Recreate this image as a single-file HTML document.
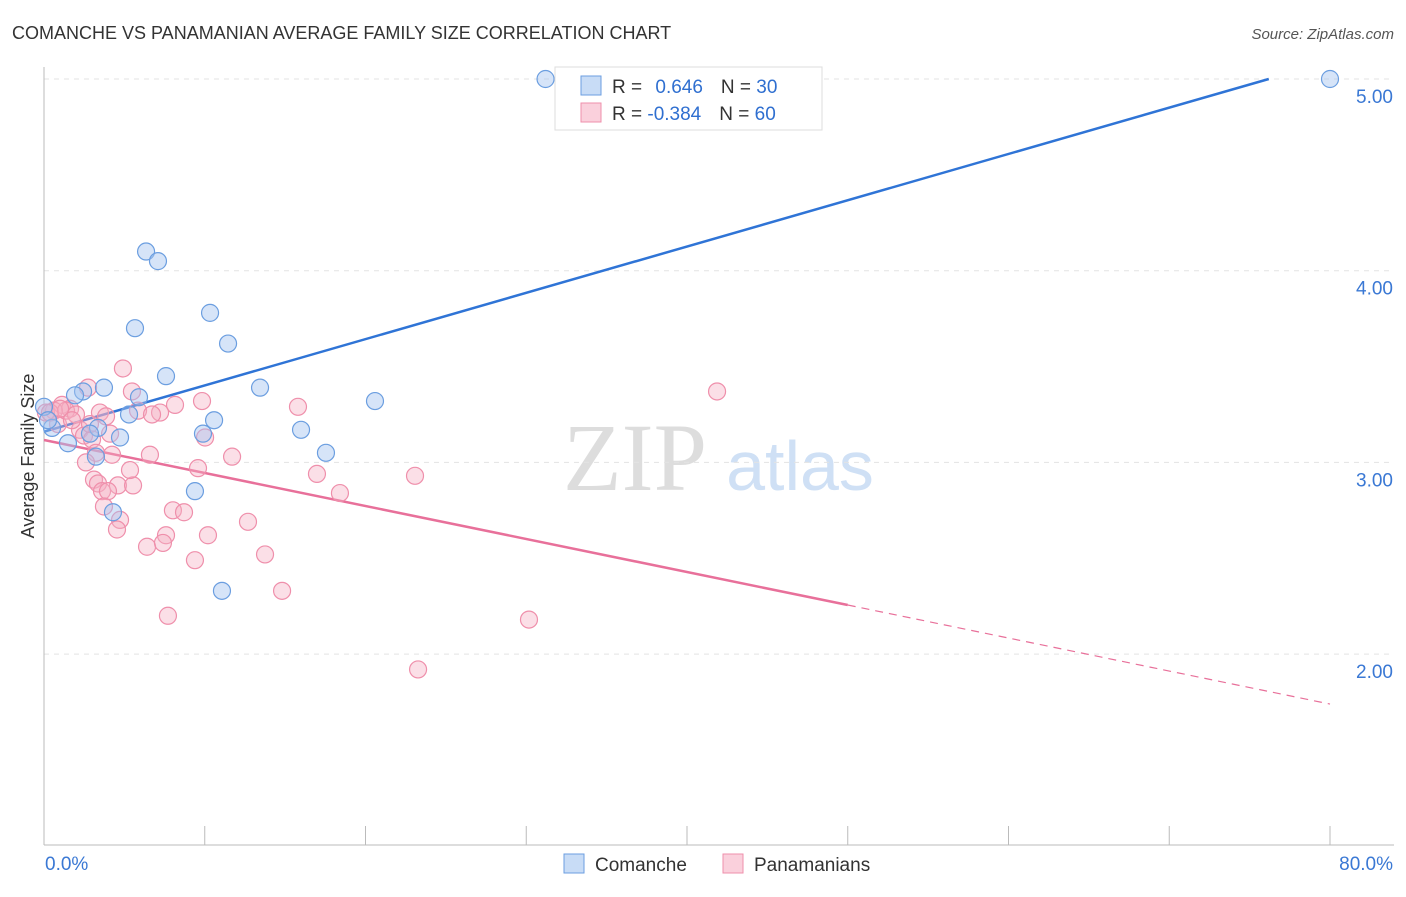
<!DOCTYPE html>
<html><head><meta charset="utf-8"><style>
body{margin:0;background:#fff;font-family:"Liberation Sans",sans-serif}
</style></head><body>
<svg width="1406" height="892" xmlns="http://www.w3.org/2000/svg" font-family="Liberation Sans, sans-serif">
<text x="12" y="39" font-size="18" fill="#333">COMANCHE VS PANAMANIAN AVERAGE FAMILY SIZE CORRELATION CHART</text>
<text x="1394" y="39" font-size="15" fill="#555" font-style="italic" text-anchor="end">Source: ZipAtlas.com</text>
<text x="635" y="490" font-size="96" fill="#ddd" font-family="Liberation Serif, serif" text-anchor="middle">ZIP</text>
<text x="800" y="490" font-size="70" fill="#cfe0f5" text-anchor="middle">atlas</text>
<g id="grid"></g><g id="axes"></g><g id="trends"></g><g id="points"></g>
<text x="34" y="456" font-size="18" fill="#333" text-anchor="middle" transform="rotate(-90 34 456)">Average Family Size</text>
<g>
<rect x="555" y="67" width="267" height="63" fill="#fff" stroke="#ddd"/>
<rect x="581" y="76" width="20" height="19" fill="rgba(164,196,240,0.6)" stroke="#6b9ee0"/>
<rect x="581" y="103" width="20" height="19" fill="rgba(246,176,196,0.6)" stroke="#ef8fab"/>
<text x="612" y="93" font-size="19" fill="#333">R = <tspan fill="#2f6fd0" dx="8">0.646</tspan><tspan fill="#333" dx="18">N = </tspan><tspan fill="#2f6fd0">30</tspan></text>
<text x="612" y="120" font-size="19" fill="#333">R = <tspan fill="#2f6fd0">-0.384</tspan><tspan fill="#333" dx="18">N = </tspan><tspan fill="#2f6fd0">60</tspan></text>
</g>
<g>
<rect x="564" y="854" width="20" height="19" fill="rgba(164,196,240,0.6)" stroke="#6b9ee0"/>
<text x="595" y="871" font-size="19" fill="#333">Comanche</text>
<rect x="723" y="854" width="20" height="19" fill="rgba(246,176,196,0.6)" stroke="#ef8fab"/>
<text x="754" y="871" font-size="19" fill="#333">Panamanians</text>
</g>
</svg>
<script>
const blueX=[31.2,80.0,6.35,7.09,5.66,10.33,11.45,7.59,13.44,20.59,3.73,2.43,1.93,5.91,5.29,10.58,3.36,2.86,4.73,0.50,1.49,9.89,15.99,17.54,3.23,9.39,4.29,11.07,0.0,0.25];
const blueY=[5.00,5.00,4.10,4.05,3.70,3.78,3.62,3.45,3.39,3.32,3.39,3.37,3.35,3.34,3.25,3.22,3.18,3.15,3.13,3.18,3.10,3.15,3.17,3.05,3.03,2.85,2.74,2.33,3.29,3.22];
const pinkX=[4.91,2.74,5.47,9.83,8.15,15.80,41.87,7.22,5.85,6.72,3.48,3.86,1.12,1.62,0.62,0.12,0.87,2.24,2.49,4.11,2.99,10.02,11.70,4.23,3.23,2.61,9.58,16.98,23.08,3.11,3.36,4.60,5.54,3.61,3.98,18.41,3.73,8.02,8.71,4.73,4.54,12.69,10.20,7.59,6.41,7.40,13.75,9.39,14.81,7.71,30.17,23.27,0.37,1.37,1.99,1.00,1.74,5.35,6.59,2.86];
const pinkY=[3.49,3.39,3.37,3.32,3.30,3.29,3.37,3.26,3.27,3.25,3.26,3.24,3.30,3.28,3.27,3.26,3.20,3.17,3.14,3.15,3.12,3.13,3.03,3.04,3.05,3.00,2.97,2.94,2.93,2.91,2.89,2.88,2.88,2.85,2.85,2.84,2.77,2.75,2.74,2.70,2.65,2.69,2.62,2.62,2.56,2.58,2.52,2.49,2.33,2.20,2.18,1.92,3.26,3.27,3.25,3.28,3.22,2.96,3.04,3.20];
const blueTrend=[3.16,0.02415]; // intercept, slope
const pinkTrend=[3.117,-0.01722];
const yTicks=[2,3,4,5];
const yTickLabels=["2.00","3.00","4.00","5.00"];
const xTickVals=[0,10,20,30,40,50,60,70,80];
const NS="http://www.w3.org/2000/svg";
const X0=44,X1=1330,Y5=79,PPU=191.7;
const sx=v=>X0+(v/80)*(X1-X0);
const sy=v=>Y5+(5-v)*PPU;
function mk(tag,attrs,parent){const e=document.createElementNS(NS,tag);for(const k in attrs)e.setAttribute(k,attrs[k]);document.getElementById(parent).appendChild(e);return e;}
yTicks.forEach((t,i)=>{
  const g=mk('line',{x1:X0,x2:1394,y1:sy(t),y2:sy(t),stroke:'#e3e3e3','stroke-dasharray':'5,5'},'grid');
  
  
  const l=mk('text',{x:1393,y:sy(t)+24,'font-size':19,fill:'#3a78d4','text-anchor':'end'},'grid');
  l.textContent=yTickLabels[i];
  
  
});
const ax=mk('line',{x1:X0,x2:1394,y1:845,y2:845,stroke:'#bbb'},'axes');


const ay=mk('line',{x1:X0,x2:X0,y1:67,y2:845,stroke:'#bbb'},'axes');


xTickVals.forEach(v=>{
  const t=mk('line',{x1:sx(v),x2:sx(v),y1:826,y2:845,stroke:'#bbb'},'axes');
  
  
});
const xl0=mk('text',{x:45,y:870,'font-size':19,fill:'#3a78d4'},'axes');
xl0.textContent='0.0%';


const xl1=mk('text',{x:1393,y:870,'font-size':19,fill:'#3a78d4','text-anchor':'end'},'axes');
xl1.textContent='80.0%';


// blue trend clipped at y=5
const bxEnd=(5-blueTrend[0])/blueTrend[1];
const bl=mk('line',{x1:sx(0),y1:sy(blueTrend[0]),x2:sx(Math.min(80,bxEnd)),y2:sy(blueTrend[0]+blueTrend[1]*Math.min(80,bxEnd)),stroke:'#2f74d6','stroke-width':2.5},'trends');


const pl=mk('line',{x1:sx(0),y1:sy(pinkTrend[0]),x2:sx(50),y2:sy(pinkTrend[0]+pinkTrend[1]*50),stroke:'#e8709a','stroke-width':2.5},'trends');


const pd=mk('line',{x1:sx(50),y1:sy(pinkTrend[0]+pinkTrend[1]*50),x2:sx(80),y2:sy(pinkTrend[0]+pinkTrend[1]*80),stroke:'#e8709a','stroke-width':1.2,'stroke-dasharray':'8,6'},'trends');


pinkX.forEach((x,i)=>{
  const c=mk('circle',{cx:sx(x),cy:sy(pinkY[i]),r:8.5,fill:'rgba(246,176,196,0.4)',stroke:'#ef8fab','stroke-width':1.2},'points');
  
  
});
blueX.forEach((x,i)=>{
  const c=mk('circle',{cx:sx(x),cy:sy(blueY[i]),r:8.5,fill:'rgba(164,196,240,0.45)',stroke:'#6b9ee0','stroke-width':1.2},'points');
  
  
});
</script>
</body></html>
